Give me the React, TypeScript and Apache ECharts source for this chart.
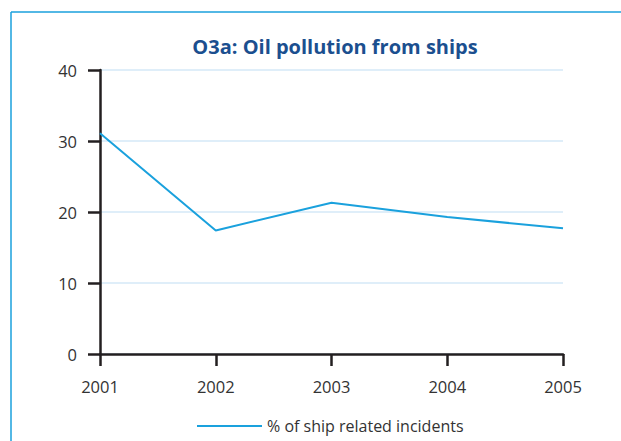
import React, { useEffect, useRef } from "react";
import * as echarts from "echarts";

const years = ["2001", "2002", "2003", "2004", "2005"];
const shipIncidents = [31.1, 17.4, 21.3, 19.3, 17.7];
const seriesName = "% of ship related incidents";
const titleText = "O3a: Oil pollution from ships";

export default function App() {
  const ref = useRef<HTMLDivElement>(null);
  useEffect(() => {
    const chart = echarts.init(ref.current!, undefined, { renderer: "svg" });
    const font = "'Open Sans', Lato, sans-serif";
    chart.setOption({
      animation: false,
      backgroundColor: "#ffffff",
      title: {
        text: titleText,
        left: 330,
        textAlign: "center",
        top: 31,
        textStyle: { color: "#1b4f8f", fontSize: 20, fontWeight: "bold", fontFamily: font },
      },
      legend: {
        left: 192,
        top: 413,
        icon: "rect",
        itemWidth: 65,
        itemHeight: 2,
        itemGap: 6,
        textStyle: { color: "#333", fontSize: 16, fontFamily: font },
        data: [seriesName],
      },
      grid: { left: 100, right: 58, top: 70, bottom: 87 },
      xAxis: {
        type: "category",
        data: years,
        boundaryGap: false,
        axisLine: { lineStyle: { color: "#231f20", width: 2.5 } },
        axisTick: { length: 12, lineStyle: { color: "#231f20", width: 2.5 } },
        axisLabel: { color: "#333", fontSize: 16.5, fontFamily: font, margin: 24 },
      },
      yAxis: {
        type: "value",
        min: 0,
        max: 40,
        interval: 10,
        axisLine: { show: true, lineStyle: { color: "#231f20", width: 2.5 } },
        axisTick: { show: true, length: 12, lineStyle: { color: "#231f20", width: 2.5 } },
        axisLabel: { color: "#333", fontSize: 16.5, fontFamily: font, margin: 23 },
        splitLine: { lineStyle: { color: "#d4e9f7", width: 1.5 } },
      },
      series: [
        {
          name: seriesName,
          type: "line",
          data: shipIncidents,
          showSymbol: false,
          symbol: "none",
          lineStyle: { color: "#1aa1dd", width: 2 },
          itemStyle: { color: "#1aa1dd" },
        },
      ],
      graphic: [
        {
          type: "line",
          shape: { x1: 11, y1: 12, x2: 621, y2: 12 },
          style: { stroke: "#1aa1dd", lineWidth: 1.5 },
        },
        {
          type: "line",
          shape: { x1: 11, y1: 12, x2: 11, y2: 441 },
          style: { stroke: "#1aa1dd", lineWidth: 1.5 },
        },
      ],
    });
    return () => chart.dispose();
  }, []);
  return (
    <div
      ref={ref}
      style={{ position: "fixed", left: 0, top: 0, width: 621, height: 441 }}
    />
  );
}
